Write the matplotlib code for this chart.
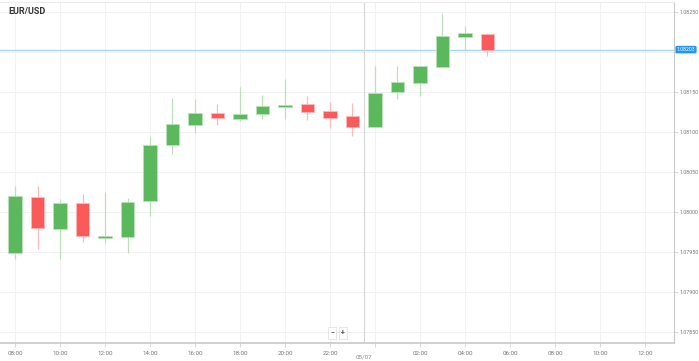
import pandas as pd
import numpy as np
import matplotlib
matplotlib.use('Agg')
import matplotlib.pyplot as plt
import matplotlib.dates as mdates

plt.rcParams['font.family'] = ['Roboto', 'DejaVu Sans']

# hourly EUR/USD candles, 05/06 08:00 -> 05/07 05:00
times = ['2020-05-06 08:00', '2020-05-06 09:00', '2020-05-06 10:00', '2020-05-06 11:00',
         '2020-05-06 12:00', '2020-05-06 13:00', '2020-05-06 14:00', '2020-05-06 15:00',
         '2020-05-06 16:00', '2020-05-06 17:00', '2020-05-06 18:00', '2020-05-06 19:00',
         '2020-05-06 20:00', '2020-05-06 21:00', '2020-05-06 22:00', '2020-05-06 23:00',
         '2020-05-07 00:00', '2020-05-07 01:00', '2020-05-07 02:00', '2020-05-07 03:00',
         '2020-05-07 04:00', '2020-05-07 05:00']
opens = [1.07949, 1.08019, 1.07979, 1.08011, 1.07968, 1.07969, 1.08014, 1.08084,
         1.08109, 1.08124, 1.08116, 1.08122, 1.08131, 1.08135, 1.08126, 1.08120,
         1.08106, 1.08150, 1.08161, 1.08181, 1.08219, 1.08223]
highs = [1.08033, 1.08033, 1.08016, 1.08023, 1.08025, 1.08018, 1.08094, 1.08143,
         1.08141, 1.08135, 1.08156, 1.08146, 1.08166, 1.08145, 1.08138, 1.08136,
         1.08183, 1.08183, 1.08183, 1.08249, 1.08233, 1.08224]
lows = [1.07941, 1.07954, 1.07941, 1.07963, 1.07961, 1.07949, 1.07995, 1.08073,
        1.08099, 1.08109, 1.08114, 1.08116, 1.08116, 1.08115, 1.08105, 1.08095,
        1.08106, 1.08141, 1.08145, 1.08181, 1.08203, 1.08195]
closes = [1.08020, 1.07980, 1.08011, 1.07970, 1.07970, 1.08013, 1.08084, 1.08110,
          1.08124, 1.08118, 1.08123, 1.08132, 1.08134, 1.08125, 1.08118, 1.08106,
          1.08149, 1.08163, 1.08183, 1.08220, 1.08224, 1.08203]
current_price = 1.08203
y_ticks = [1.0785, 1.0790, 1.0795, 1.0800, 1.0805, 1.0810, 1.0815, 1.0820, 1.0825]
crosshair_time = '2020-05-06 23:31'

df = pd.DataFrame({'time': pd.to_datetime(times), 'open': opens, 'high': highs,
                   'low': lows, 'close': closes})
df['x'] = mdates.date2num(df['time'])
up = df['close'] >= df['open']

W, H = 699, 361
fig = plt.figure(figsize=(W / 100, H / 100), dpi=100)
ax = fig.add_axes([0, 18 / H, 674 / W, 341 / H])

green, green_l = '#5cb85c', '#b9e2b9'
red, red_l = '#fa5a5a', '#ffb8b8'
hour = 1 / 24.0
bw = 0.62 * hour

for sel, c, cl in [(up, green, green_l), (~up, red, red_l)]:
    d = df[sel]
    ax.vlines(d['x'], d['low'], d['high'], color=cl, lw=0.9, zorder=2)
    h = (d['close'] - d['open']).abs().clip(lower=0.000012)
    ax.bar(d['x'], h, bottom=d[['open', 'close']].min(axis=1), width=bw,
           color=c, edgecolor=cl, linewidth=0.6, zorder=3)

t0 = df['x'].iloc[0]
ax.set_xlim(t0 - 0.667 * hour, t0 + 29.29 * hour)
ax.set_ylim(1.0783625, 1.082625)

# axes styling
ax.grid(True, color='#f1f1f1', lw=0.7, zorder=0)
ax.set_axisbelow(True)
ax.spines['left'].set_visible(False)
ax.spines['top'].set_color('#ececec')
ax.spines['right'].set_color('#c8c8c8')
ax.spines['bottom'].set_color('#c8c8c8')
ax.spines['bottom'].set_linewidth(1.2)

ax.yaxis.tick_right()
ax.set_yticks(y_ticks)
# the 1.08200 label sits under the current price tag
ax.set_yticklabels(['' if abs(v - 1.0820) < 1e-9 else '%.5f' % v for v in y_ticks])
ax.tick_params(axis='y', length=3, width=0.5, color='#c8c8c8', labelsize=3.9,
               labelcolor='#777777', pad=1)

ax.xaxis.set_major_locator(mdates.HourLocator(byhour=range(0, 24, 2)))
ax.xaxis.set_major_formatter(plt.FuncFormatter(
    lambda v, p: '' if mdates.num2date(v).hour == 0 else mdates.num2date(v).strftime('%H:%M')))
ax.tick_params(axis='x', length=3, width=0.5, color='#c8c8c8', labelsize=4.5,
               labelcolor='#777777', pad=2.5)

# current price line + label
ax.axhline(current_price, color='#a9d6f5', lw=1, zorder=1)
ax.text(1.004, current_price, '%.5f' % current_price, transform=ax.get_yaxis_transform(),
        fontsize=3.7, color='white', va='center', ha='left', zorder=10, clip_on=False,
        bbox=dict(boxstyle='round,pad=0.25,rounding_size=0.3', fc='#2196f3', ec='none'))

# crosshair
xc = mdates.date2num(pd.Timestamp(crosshair_time))
ax.axvline(xc, color='#d6d6d6', lw=0.8, zorder=1)
ax.text(xc, -0.042, '05/07', transform=ax.get_xaxis_transform(), fontsize=4.5,
        color='#888888', ha='center', va='center', clip_on=False)

# title
fig.text(8 / W, 1 - 12 / H, 'EUR/USD', fontsize=6.5, fontweight='bold', color='#333333',
         va='center', ha='left')

# zoom buttons
for px, s in [(332, '\u2212'), (343, '+')]:
    fig.text(px / W, 1 - 333 / H, s, fontsize=5, fontweight='bold', color='#555555',
             ha='center', va='center',
             bbox=dict(boxstyle='square,pad=0.3', fc='white', ec='#e2e2e2', lw=0.6))

fig.savefig('out.png', dpi=100)
